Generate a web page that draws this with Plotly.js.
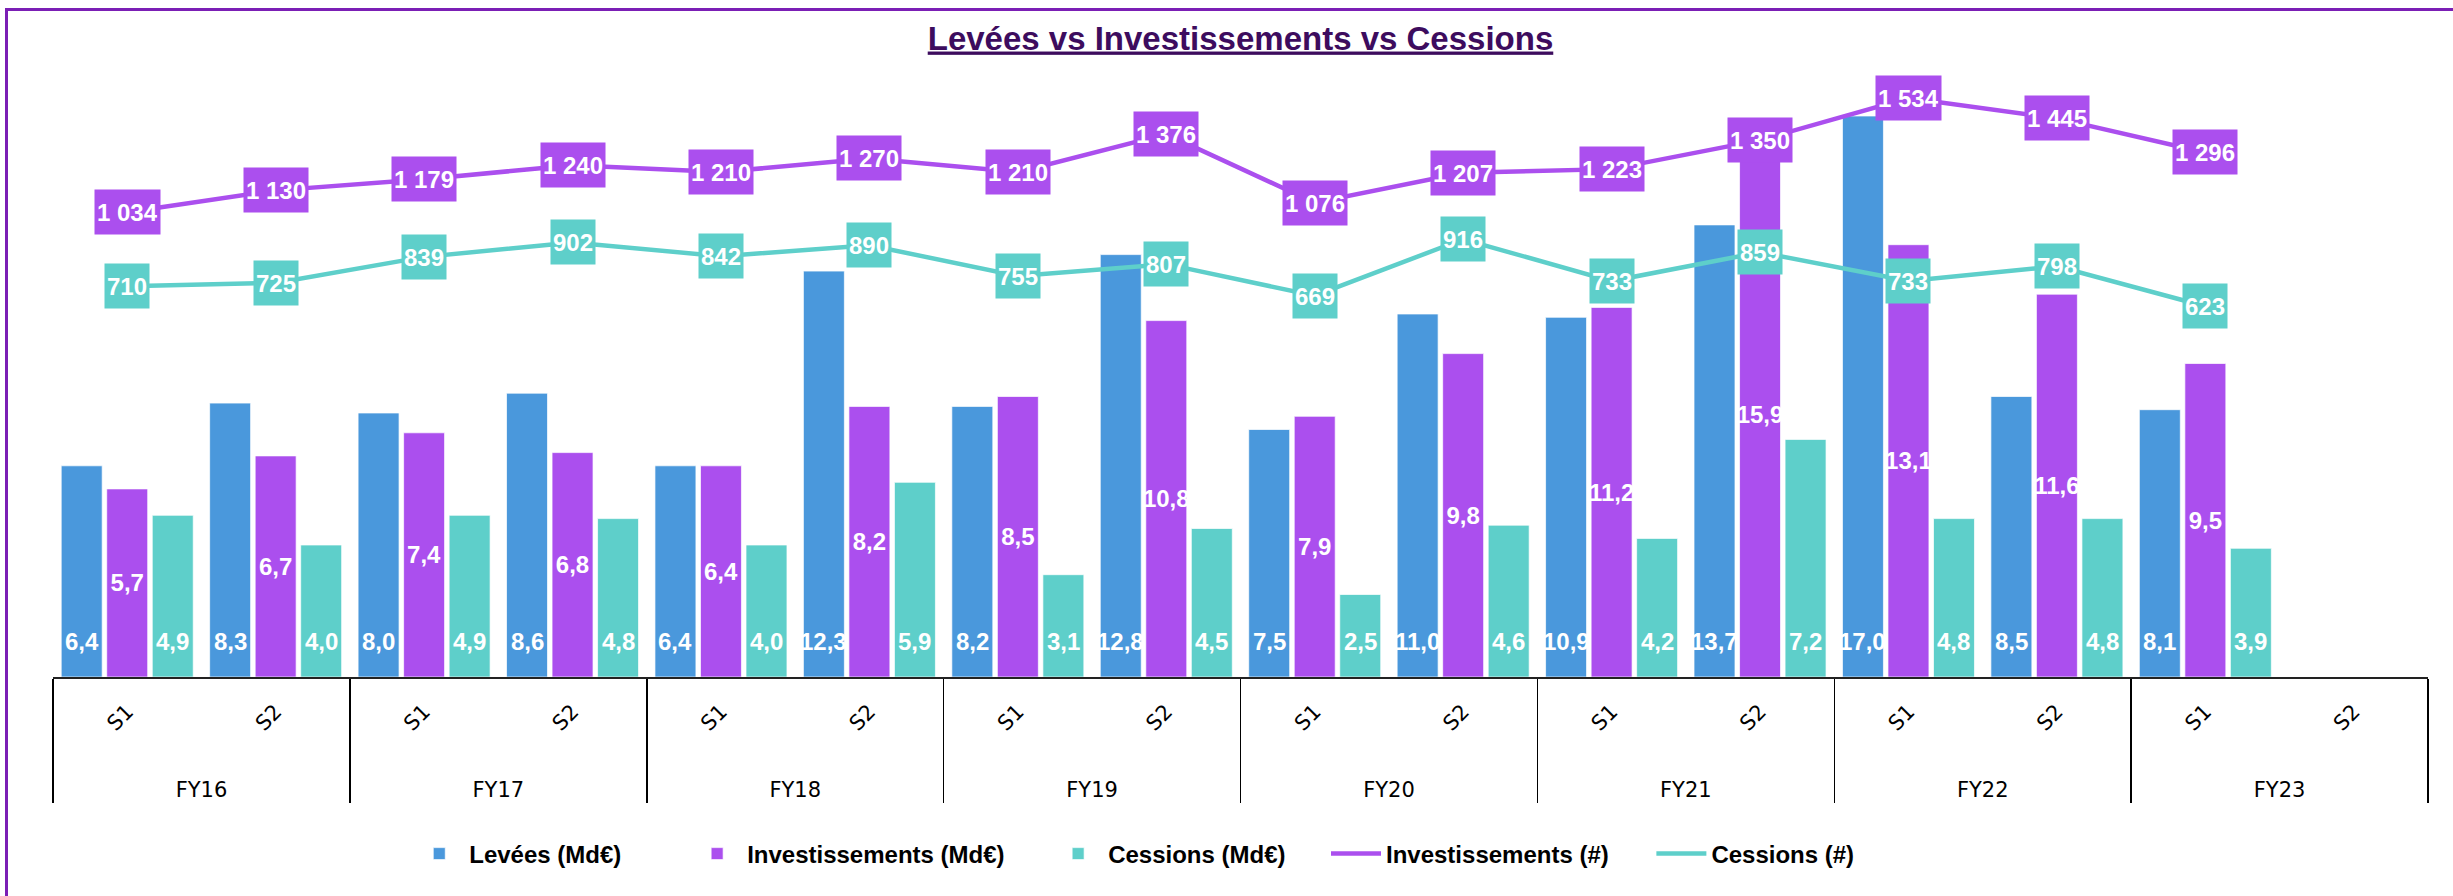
<!DOCTYPE html>
<html>
<head>
<meta charset="utf-8">
<script src="https://cdn.plot.ly/plotly-3.0.1.min.js"></script>
<style>
  html, body { margin: 0; padding: 0; background: #ffffff; }
  #wrap { position: relative; width: 2453px; height: 896px; overflow: hidden; }
  #chart { width: 2453px; height: 896px; }
  #frame { position: absolute; left: 5px; top: 8px; right: -10px; bottom: -10px;
           border-top: 3px solid #7b1fb5; border-left: 3px solid #7b1fb5; pointer-events: none; }
</style>
</head>
<body>
<div id="wrap">
  <div id="chart"></div>
  <div id="frame"></div>
</div>
<script>
// ---- Data ----
const fiscalYears = ['FY16', 'FY17', 'FY18', 'FY19', 'FY20', 'FY21', 'FY22', 'FY23'];
const semesters = ['S1', 'S2'];

const leveesMd = [6.4, 8.3, 8.0, 8.6, 6.4, 12.3, 8.2, 12.8, 7.5, 11.0, 10.9, 13.7, 17.0, 8.5, 8.1, null];
const investMd = [5.7, 6.7, 7.4, 6.8, 6.4, 8.2, 8.5, 10.8, 7.9, 9.8, 11.2, 15.9, 13.1, 11.6, 9.5, null];
const cessionsMd = [4.9, 4.0, 4.9, 4.8, 4.0, 5.9, 3.1, 4.5, 2.5, 4.6, 4.2, 7.2, 4.8, 4.8, 3.9, null];
const investNb = [1034, 1130, 1179, 1240, 1210, 1270, 1210, 1376, 1076, 1207, 1223, 1350, 1534, 1445, 1296, null];
const cessionsNb = [710, 725, 839, 902, 842, 890, 755, 807, 669, 916, 733, 859, 733, 798, 623, null];

const seriesNames = ['Levées (Md€)', 'Investissements (Md€)', 'Cessions (Md€)', 'Investissements (#)', 'Cessions (#)'];

// ---- Helpers ----
const C_BLUE = '#4a98dc', C_PURPLE = '#ab4fee', C_TEAL = '#5ecfca';
const LABEL_FONT = { family: 'Liberation Sans, Arial, sans-serif', size: 24, color: '#ffffff', weight: 'bold' };
const LEGEND_FONT = { family: 'Liberation Sans, Arial, sans-serif', size: 24, color: '#000000', weight: 'bold' };

// Outer (year) labels get an invisible first line so the year row sits lower, as in the original
const xOuter = [], xInner = [], xFlat = [];
fiscalYears.forEach(fy => semesters.forEach(s => {
  xOuter.push('\u00a0<br>' + fy); xInner.push(s); xFlat.push(fy + ' ' + s);
}));

const fmtDec = v => v.toFixed(1).replace('.', ',');
const fmtInt = v => String(v).replace(/\B(?=(\d{3})+(?!\d))/g, ' ');

const barLine = { width: 1, color: 'rgba(255,255,255,0.7)' };

const traces = [
  { type: 'bar', name: seriesNames[0], legend: 'legend', x: [xOuter, xInner], y: leveesMd, xaxis: 'x', yaxis: 'y',
    hoverinfo: 'skip', marker: { color: C_BLUE, line: barLine } },
  { type: 'bar', name: seriesNames[1], legend: 'legend2', x: [xOuter, xInner], y: investMd, xaxis: 'x', yaxis: 'y',
    hoverinfo: 'skip', marker: { color: C_PURPLE, line: barLine },
    text: investMd.map(v => v == null ? '' : fmtDec(v)),
    textposition: 'inside', insidetextanchor: 'middle', textangle: 0, constraintext: 'none',
    insidetextfont: LABEL_FONT },
  { type: 'bar', name: seriesNames[2], legend: 'legend3', x: [xOuter, xInner], y: cessionsMd, xaxis: 'x', yaxis: 'y',
    hoverinfo: 'skip', marker: { color: C_TEAL, line: barLine } },
  { type: 'scatter', mode: 'lines', name: seriesNames[3], legend: 'legend4', x: xFlat, y: investNb,
    xaxis: 'x3', yaxis: 'y2', line: { color: C_PURPLE, width: 4.5 }, hoverinfo: 'skip' },
  { type: 'scatter', mode: 'lines', name: seriesNames[4], legend: 'legend5', x: xFlat, y: cessionsNb,
    xaxis: 'x3', yaxis: 'y2', line: { color: C_TEAL, width: 4.5 }, hoverinfo: 'skip' }
];

const annotations = [];
// Line value boxes
[[investNb, C_PURPLE], [cessionsNb, C_TEAL]].forEach(([arr, col]) => {
  arr.forEach((v, i) => {
    if (v == null) return;
    annotations.push({ x: xFlat[i], y: v, xref: 'x3', yref: 'y2', text: fmtInt(v), showarrow: false,
      bgcolor: col, borderpad: 2, height: 40, font: LABEL_FONT, xanchor: 'center', yanchor: 'middle' });
  });
});
// Base labels for Levées and Cessions bars
[[leveesMd, -45.5], [cessionsMd, 45.5]].forEach(([arr, shift]) => {
  arr.forEach((v, i) => {
    if (v == null) return;
    annotations.push({ x: xFlat[i], y: 0, xref: 'x3', yref: 'y', text: fmtDec(v), showarrow: false,
      xshift: shift, yshift: 36, font: LABEL_FONT, xanchor: 'center', yanchor: 'middle' });
  });
});

// Legend placement (paper x of each legend entry)
const legendX = [0.150, 0.267, 0.419, 0.536, 0.673];
function legendCfg(x) {
  return { orientation: 'h', x: x, xanchor: 'left', y: -0.298, yanchor: 'middle',
           font: LEGEND_FONT, itemwidth: 50, bgcolor: 'rgba(0,0,0,0)', borderwidth: 0 };
}

const layout = {
  width: 2453, height: 896,
  margin: { l: 53, r: 25, t: 83, b: 219, pad: 0 },
  paper_bgcolor: '#ffffff', plot_bgcolor: '#ffffff',
  barmode: 'group', bargap: 0.08, bargroupgap: 0.1,
  hovermode: false,
  title: {
    text: 'Levées vs Investissements vs Cessions',
    x: 0.5, xref: 'paper', xanchor: 'center',
    y: 0.9576, yref: 'container', yanchor: 'middle',
    font: { family: 'Liberation Sans, Arial, sans-serif', size: 33, color: '#3d0c5e', weight: 'bold', lineposition: 'under' }
  },
  xaxis: {
    type: 'multicategory', range: [-0.5, 15.5],
    showline: true, linecolor: '#222222', linewidth: 2,
    ticks: '', tickangle: -45, ticklabelstandoff: 12,
    showdividers: true, dividercolor: '#000000', dividerwidth: 1.5,
    tickfont: { family: 'DejaVu Sans, sans-serif', size: 21, color: '#000000' },
    showgrid: false, zeroline: false, fixedrange: true
  },
  xaxis3: {
    type: 'category', overlaying: 'x', anchor: 'y', range: [-0.5, 15.5],
    categoryorder: 'array', categoryarray: xFlat, visible: false, fixedrange: true
  },
  yaxis: { range: [0, 18], visible: false, showgrid: false, zeroline: false, fixedrange: true },
  yaxis2: { range: [-1000, 1600], overlaying: 'y', side: 'right', anchor: 'x', visible: false,
            showgrid: false, zeroline: false, fixedrange: true },
  showlegend: true,
  legend: legendCfg(legendX[0]),
  legend2: legendCfg(legendX[1]),
  legend3: legendCfg(legendX[2]),
  legend4: legendCfg(legendX[3]),
  legend5: legendCfg(legendX[4]),
  annotations: annotations
};

Plotly.newPlot('chart', traces, layout, { staticPlot: true, displayModeBar: false });
</script>
</body>
</html>
